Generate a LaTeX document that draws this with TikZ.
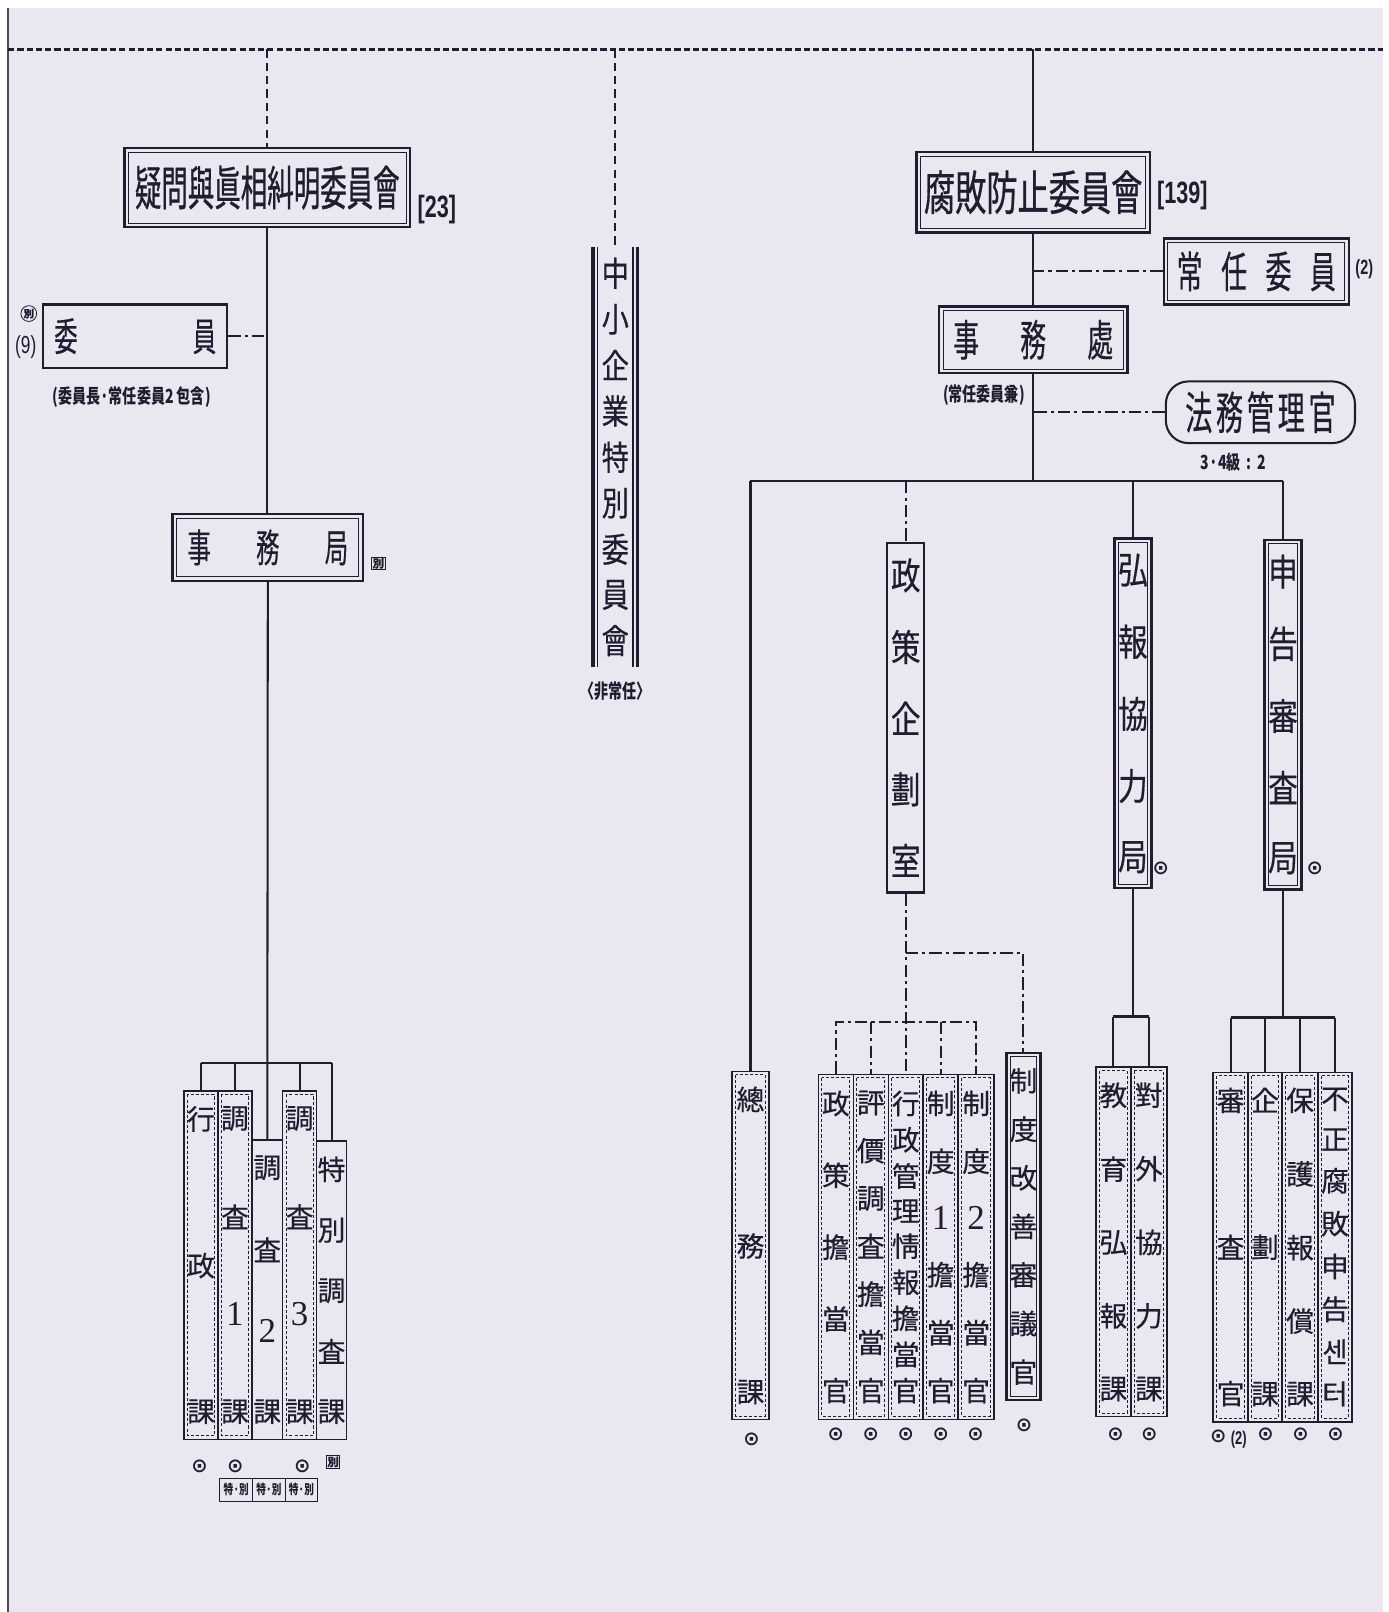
\documentclass[tikz,border=0pt]{standalone}
\usepackage{fontspec}
\setmainfont{Liberation Serif}
\newfontfamily\cjk[FakeBold=0.4]{Noto Sans CJK KR}
\newfontfamily\cjkT[FakeStretch=0.56,FakeBold=0.6]{Noto Sans CJK KR}
\newfontfamily\cjkB[FakeStretch=0.66,FakeBold=0.6]{Noto Sans CJK KR}
\newfontfamily\cjkA[FakeStretch=0.6,FakeBold=0.3]{Noto Sans CJK KR}
\newfontfamily\cjkV[FakeStretch=0.8,FakeBold=0.4]{Noto Sans CJK KR}
\newfontfamily\cjkS[FakeStretch=0.72]{Noto Sans CJK KR}
\newfontfamily\nrw[FakeStretch=0.7]{Liberation Sans}
\newfontfamily\sym{DejaVu Sans}
\definecolor{ink}{RGB}{30,30,48}
\definecolor{paper}{RGB}{234,231,241}
\newcommand\vs[2]{\parbox[c][#1][s]{1em}{\centering\offinterlineskip #2}}
\newcommand\nx{\par\vfill}
\newcommand\fs[1]{\fontsize{#1}{#1}\selectfont}
\newcommand\dg[1]{{\rmfamily\fontsize{34}{34}\selectfont #1}}
\usetikzlibrary{calc}
\tikzset{
  ln/.style={draw=ink, line width=2pt},
  brk/.style={draw=ink, line width=2.6pt},
  dd/.style={draw=ink, line width=2pt, dash pattern=on 12pt off 4pt on 3pt off 4pt},
  dsh/.style={draw=ink, line width=2pt, dash pattern=on 8pt off 5pt},
  busline/.style={draw=ink, line width=3.5pt, dash pattern=on 6pt off 3pt},
  sbox/.style={draw=ink, line width=2.4pt, inner sep=0pt, text=ink},
  dbox/.style={sbox, path picture={\draw[ink, line width=1pt] ([shift={(4pt,-4pt)}]path picture bounding box.north west) rectangle ([shift={(-4pt,4pt)}]path picture bounding box.south east);}},
  pbox/.style={draw=ink, line width=1.4pt, inner sep=0pt, text=ink},
  dashbox/.style={pbox, path picture={\draw[ink, line width=0.9pt, dash pattern=on 3pt off 2pt] ([shift={(3.5pt,-3.5pt)}]path picture bounding box.north west) rectangle ([shift={(-3.5pt,3.5pt)}]path picture bounding box.south east);}},
  lbl/.style={inner sep=0pt, text=ink},
  okm/.style={inner sep=0pt, text=ink, font=\sym\bfseries\fs{19}},
  small/.style={inner sep=0pt, text=ink, font=\cjkS\bfseries\fs{19}},
  tagbox/.style={draw=ink, line width=0.9pt, inner sep=1pt, text=ink, font=\cjk\bfseries\fs{11}},
  vsm/.style={font=\cjk\fs{27}},
  vbig/.style={font=\cjkV\fs{36}},
}
\begin{document}
\begin{tikzpicture}[x=1pt,y=-1pt]
\useasboundingbox (0,0) rectangle (1351,1568);
\fill[white] (0,0) rectangle (1351,1568);
\fill[paper] (8,8) rectangle (1345,1568);
\draw[ink!80, line width=1.5pt] (8,8) -- (8,1568);

% bus
\coordinate (busL) at (8,48);
\coordinate (busR) at (1345,48);
\coordinate (bus) at (0,48);
\draw[busline] (busL) -- (busR);

% ---------------- left committee
\node[dbox, minimum width=278, minimum height=77, font=\cjkT\fs{46}] (t1) at (260,182.5) {疑問與眞相糾明委員會};
\node[lbl, font=\nrw\bfseries\fs{30}] (t1n) at (425,204) {[23]};
\node[sbox, minimum width=179, minimum height=62, font=\cjkA\fs{38}] (w1) at (131.5,327) {委\hspace{112pt}員};
\node[circle, draw=ink, line width=0.8pt, inner sep=0.6pt, text=ink, font=\cjk\bfseries\fs{10}] (w1c) at (28,305) {別};
\node[lbl, font=\nrw\fs{24}] (w1n) at (25,338) {(9)};
\node[small] (w1s) at (128,386) {(委員長·常任委員2 包含)};
\node[dbox, minimum width=185, minimum height=65, font=\cjkA\fs{38}] (sj) at (260.5,532.5) {事\hspace{44pt}務\hspace{44pt}局};
\node[tagbox] (sjt) at (368,548) {別};

\node[dashbox, minimum width=33, minimum height=339, vsm] (gy) at (195.5,1230.5) {\vs{307pt}{行\nx 政\nx 課}};
\node[dashbox, minimum width=33, minimum height=339, vsm] (c1) at (228.5,1230.5) {\vs{307pt}{調\nx 査\nx \dg{1}\nx 課}};
\node[pbox, minimum width=30, minimum height=291, vsm] (c2) at (260,1254.5) {\vs{259pt}{調\nx 査\nx \dg{2}\nx 課}};
\node[dashbox, minimum width=33, minimum height=339, vsm] (c3) at (291.5,1230.5) {\vs{307pt}{調\nx 査\nx \dg{3}\nx 課}};
\node[pbox, minimum width=29, minimum height=290, vsm] (sp) at (322.5,1255) {\vs{258pt}{特\nx 別\nx 調\nx 査\nx 課}};

\coordinate (lbr) at (0,1034);
\draw[dsh] (t1.north |- bus) -- (t1.north);
\draw[ln] (t1.south) -- (t1.south |- sj.north);
\draw[dd] (w1.east) -- (w1.east -| t1.south);
\draw[ln] (sj.south) -- (c2.north);
\draw[brk] (gy.north |- lbr) -- (sp.north |- lbr);
\draw[ln] (gy.north |- lbr) -- (gy.north);
\draw[ln] (c1.north |- lbr) -- (c1.north);
\draw[ln] (c3.north |- lbr) -- (c3.north);
\draw[ln] (sp.north |- lbr) -- (sp.north);

\node[okm] (m1) at (194,1426) {⊙};
\node[okm] (m2) at (229,1426) {⊙};
\node[okm] (m3) at (294,1426) {⊙};
\node[tagbox] (m4) at (324,1422) {別};
\node[draw=ink, line width=0.9pt, minimum width=31.7, minimum height=22, inner sep=0pt, text=ink, font=\cjkS\bfseries\fs{13}] (tb1) at (229.8,1449) {特·別};
\node[draw=ink, line width=0.9pt, minimum width=31.7, minimum height=22, inner sep=0pt, text=ink, font=\cjkS\bfseries\fs{13}] (tb2) at (261.5,1449) {特·別};
\node[draw=ink, line width=0.9pt, minimum width=31.7, minimum height=22, inner sep=0pt, text=ink, font=\cjkS\bfseries\fs{13}] (tb3) at (293.2,1449) {特·別};

% ---------------- middle committee
\node[lbl, minimum width=43, minimum height=409, font=\cjkV\fs{33}] (cm) at (598.5,444.5) {\vs{385pt}{中\nx 小\nx 企\nx 業\nx 特\nx 別\nx 委\nx 員\nx 會}};
\draw[ink, line width=3pt] (cm.north west) -- (cm.south west);
\draw[ink, line width=1pt] ([xshift=4.5pt]cm.north west) -- ([xshift=4.5pt]cm.south west);
\draw[ink, line width=3pt] (cm.north east) -- (cm.south east);
\draw[ink, line width=1pt] ([xshift=-4.5pt]cm.north east) -- ([xshift=-4.5pt]cm.south east);
\draw[dsh] (cm.north |- bus) -- (cm.north);
\node[small] (cmn) at (599,672) {〈非常任〉};

% ---------------- right committee
\node[dbox, minimum width=227, minimum height=78, font=\cjkB\fs{46}] (t2) at (1005,187) {腐敗防止委員會};
\node[lbl, font=\nrw\bfseries\fs{30}] (t2n) at (1150,190) {[139]};
\node[dbox, minimum width=180, minimum height=64, font=\cjkA\fs{42}] (ci) at (1222,264) {常\hspace{18pt}任\hspace{18pt}委\hspace{18pt}員};
\node[lbl, font=\nrw\bfseries\fs{20}] (cin) at (1327,262) {(2)};
\node[dbox, minimum width=183, minimum height=65, font=\cjkA\fs{42}] (sc) at (1005,330.5) {事\hspace{40pt}務\hspace{40pt}處};
\node[small] (scn) at (957,384) {(常任委員兼)};
\node[draw=ink, line width=2pt, rounded corners=22pt, minimum width=184, minimum height=60, inner sep=0pt, text=ink, font=\cjkA\fs{44}] (bm) at (1226,401) {法\hspace{3.6pt}務\hspace{3.6pt}管\hspace{3.6pt}理\hspace{3.6pt}官};
\node[small] (bmn) at (1200,449) {3·4級\hspace{6pt}:\hspace{6pt}2};

\coordinate (bar) at (0,468);
\draw[ln] (t2.north |- bus) -- (t2.north);
\draw[ln] (t2.south) -- (sc.north);
\draw[dd] (ci.west) -- (ci.west -| t2.south);
\draw[dd] (bm.west) -- (bm.west -| sc.south);
\draw[ln] (sc.south) -- (sc.south |- bar);

\node[dashbox, minimum width=36, minimum height=339, vsm] (cw) at (730,1211.5) {\vs{307pt}{總\nx 務\nx 課}};
\node[sbox, minimum width=34, minimum height=340, vbig] (pk) at (881,698) {\vs{308pt}{政\nx 策\nx 企\nx 劃\nx 室}};
\node[dbox, minimum width=36, minimum height=340, vbig] (hb) at (1102,694) {\vs{308pt}{弘\nx 報\nx 協\nx 力\nx 局}};
\node[dbox, minimum width=35, minimum height=340, vbig] (sg) at (1248,695) {\vs{308pt}{申\nx 告\nx 審\nx 査\nx 局}};
\node[okm] (hbm) at (1129,845) {⊙};
\node[okm] (sgm) at (1279,845) {⊙};

\draw[brk] (cw.north |- bar) -- (sg.north |- bar);
\draw[ln] (cw.north |- bar) -- (cw.north);
\draw[dd] (pk.north |- bar) -- (pk.north);
\draw[ln] (hb.north |- bar) -- (hb.north);
\draw[ln] (sg.north |- bar) -- (sg.north);

\node[dashbox, minimum width=34, minimum height=336, vsm] (p1) at (813,1213) {\vs{302pt}{政\nx 策\nx 擔\nx 當\nx 官}};
\node[dashbox, minimum width=34, minimum height=336, vsm] (p2) at (847,1213) {\vs{302pt}{評\nx 價\nx 調\nx 査\nx 擔\nx 當\nx 官}};
\node[dashbox, minimum width=34, minimum height=336, vsm] (p3) at (881,1213) {\vs{302pt}{行\nx 政\nx 管\nx 理\nx 情\nx 報\nx 擔\nx 當\nx 官}};
\node[dashbox, minimum width=34, minimum height=336, vsm] (p4) at (915,1213) {\vs{302pt}{制\nx 度\nx \dg{1}\nx 擔\nx 當\nx 官}};
\node[dashbox, minimum width=35, minimum height=336, vsm] (p5) at (949.5,1213) {\vs{302pt}{制\nx 度\nx \dg{2}\nx 擔\nx 當\nx 官}};
\node[dbox, minimum width=33, minimum height=338, vsm] (sd) at (995.5,1193) {\vs{306pt}{制\nx 度\nx 改\nx 善\nx 審\nx 議\nx 官}};

\coordinate (rb1) at (0,927);
\coordinate (rb2) at (0,994);
\draw[dd] (pk.south) -- (p3.north);
\draw[dd] (pk.south |- rb1) -- (sd.north |- rb1) -- (sd.north);
\draw[dd] (p1.north) -- (p1.north |- rb2) -- (p5.north |- rb2) -- (p5.north);
\draw[dd] (p2.north |- rb2) -- (p2.north);
\draw[dd] (p4.north |- rb2) -- (p4.north);

\node[dashbox, minimum width=34, minimum height=340, vsm] (e1) at (1083,1208) {\vs{308pt}{教\nx 育\nx 弘\nx 報\nx 課}};
\node[dashbox, minimum width=35, minimum height=340, vsm] (e2) at (1117.5,1208) {\vs{308pt}{對\nx 外\nx 協\nx 力\nx 課}};
\coordinate (hbr) at (0,989);
\draw[ln] (hb.south) -- (hb.south |- hbr);
\draw[brk] (e1.north |- hbr) -- (e2.north |- hbr);
\draw[ln] (e1.north |- hbr) -- (e1.north);
\draw[ln] (e2.north |- hbr) -- (e2.north);

\node[dashbox, minimum width=34, minimum height=340, vsm] (s1) at (1197,1213) {\vs{308pt}{審\nx 査\nx 官}};
\node[dashbox, minimum width=33, minimum height=340, vsm] (s2) at (1230.5,1213) {\vs{308pt}{企\nx 劃\nx 課}};
\node[dashbox, minimum width=35, minimum height=340, vsm] (s3) at (1264.5,1213) {\vs{308pt}{保\nx 護\nx 報\nx 償\nx 課}};
\node[dashbox, minimum width=33, minimum height=340, vsm] (s4) at (1298.5,1213) {\vs{308pt}{不\nx 正\nx 腐\nx 敗\nx 申\nx 告\nx 센\nx 터}};
\coordinate (sgr) at (0,990);
\draw[ln] (sg.south) -- (sg.south |- sgr);
\draw[brk] (s1.north |- sgr) -- (s4.north |- sgr);
\draw[ln] (s1.north |- sgr) -- (s1.north);
\draw[ln] (s2.north |- sgr) -- (s2.north);
\draw[ln] (s3.north |- sgr) -- (s3.north);
\draw[ln] (s4.north |- sgr) -- (s4.north);

% marks
\node[okm] (n0) at (731,1400) {⊙};
\node[okm] (n1) at (813,1395) {⊙};
\node[okm] (n2) at (847,1395) {⊙};
\node[okm] (n3) at (881,1395) {⊙};
\node[okm] (n4) at (915,1395) {⊙};
\node[okm] (n5) at (949,1395) {⊙};
\node[okm] (n6) at (996,1386) {⊙};
\node[okm] (n7) at (1085,1395) {⊙};
\node[okm] (n8) at (1118,1395) {⊙};
\node[okm] (n9) at (1185,1397) {⊙};
\node[lbl, font=\nrw\bfseries\fs{18}] (n9b) at (1205,1400) {(2)};
\node[okm] (n10) at (1231,1395) {⊙};
\node[okm] (n11) at (1265,1395) {⊙};
\node[okm] (n12) at (1299,1395) {⊙};
\end{tikzpicture}
\end{document}
